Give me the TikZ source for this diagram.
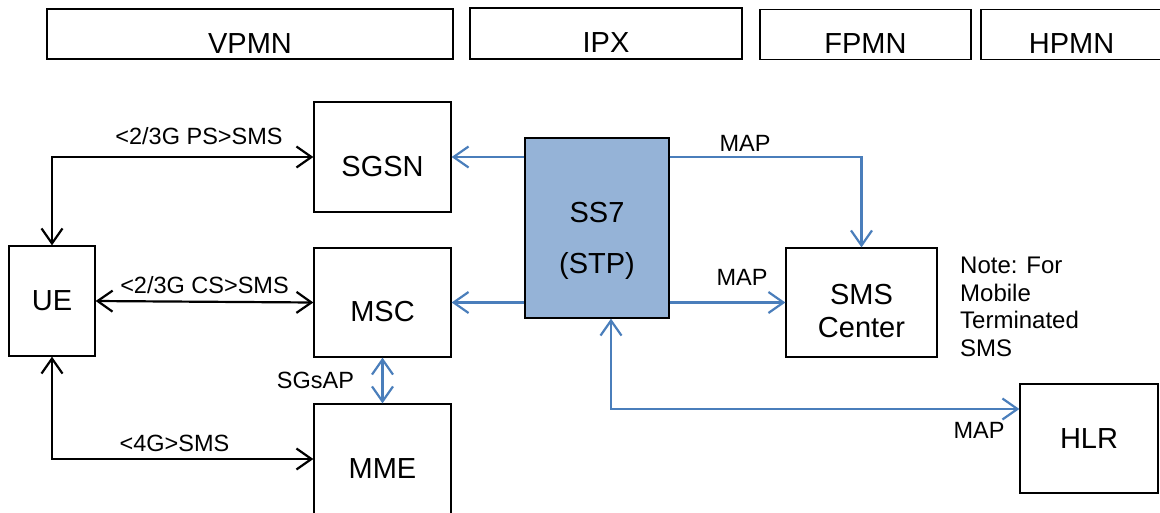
\documentclass[tikz,border=0pt]{standalone}
\usepackage{fontspec}
\setmainfont{Liberation Sans}
\usetikzlibrary{arrows.meta}
\definecolor{mapblue}{HTML}{4A7EBB}
\definecolor{stpfill}{HTML}{95B3D7}
\tikzstyle{netbox} = [draw=black, line width=1.3pt, rectangle, inner sep=0pt,
    font=\fontsize{29}{33}\selectfont]
\tikzstyle{lowbox} = [netbox, text height=38pt, text depth=0pt]
\tikzstyle{headbox} = [lowbox, minimum height=50pt]
\tikzstyle{smslink} = [draw=black, line width=2.2pt, <->]
\tikzstyle{maplink} = [draw=mapblue, line width=2.2pt]
\tikzstyle{protolabel} = [inner sep=0pt, anchor=base, font=\fontsize{23.5}{27}\selectfont]
\tikzstyle{notetext} = [inner sep=0pt, anchor=north west, align=left,
    font=\fontsize{24}{27.5}\selectfont]

\begin{document}
\begin{tikzpicture}[x=1pt, y=-1pt, >={Straight Barb[length=15pt,width=21pt]}]
    \useasboundingbox (0,0) rectangle (1160,512);
    \clip (0,0) rectangle (1160,512);
    \node[headbox, minimum width=406pt] (vpmn) at (250,34) {VPMN};
    \node[headbox, minimum width=272pt, minimum height=51pt] (ipx) at (606,33.5) {IPX};
    \node[headbox, minimum width=211pt] (fpmn) at (865.5,34.5) {FPMN};
    \node[headbox, minimum width=181pt] (hpmn) at (1071.5,34.5) {HPMN};

    \node[netbox, minimum width=86pt, minimum height=110pt] (ue) at (52,301) {UE};
    \node[lowbox, minimum width=137pt, minimum height=110pt] (sgsn) at (382.5,157) {SGSN};
    \node[lowbox, minimum width=137pt, minimum height=109pt] (msc) at (382.5,302.5) {MSC};
    \node[lowbox, minimum width=137pt, minimum height=110pt] (mme) at (382.5,459) {MME};
    \node[netbox, fill=stpfill, text width=140pt, align=center,
        font=\fontsize{29}{51}\selectfont, text height=20pt, text depth=32pt,
        minimum width=144pt, minimum height=180pt] (ss7) at (597,228) {SS7\\(STP)};
    \node[netbox, align=center, text height=70pt, text depth=1pt,
        minimum width=151pt, minimum height=109pt] (smsc) at (861.5,302.5) {SMS\\Center};
    \node[netbox, minimum width=138pt, minimum height=109pt] (hlr) at (1089,438.5) {HLR};
    \node[notetext] (note) at (960,257) {Note: For\\Mobile\\Terminated\\SMS};

    \draw[smslink] (ue.north) |- (sgsn.west);
    \draw[smslink] (ue.east) -- (msc.west);
    \draw[smslink] (ue.south) |- (mme.west);
    \draw[maplink, <->] (msc.south) -- (mme.north);
    \draw[maplink, ->] (ss7.west |- sgsn.east) -- (sgsn.east);
    \draw[maplink, ->] (ss7.west |- msc.east) -- (msc.east);
    \draw[maplink, ->] (ss7.east |- sgsn.east) -| (smsc.north);
    \draw[maplink, ->] (ss7.east |- smsc.west) -- (smsc.west);
    \draw[maplink, <->] ([xshift=14pt]ss7.south) |- ([yshift=29.5pt]hlr.west);

    \node[protolabel] (pslabel) at (199,144) {<2/3G PS>SMS};
    \node[protolabel] (cslabel) at (204.5,293) {<2/3G CS>SMS};
    \node[protolabel] (ltelabel) at (174.5,451) {<4G>SMS};
    \node[protolabel] (sgsap) at (315.5,388) {SGsAP};
    \node[protolabel] (mapsmsc) at (745,151) {MAP};
    \node[protolabel] (mapmt) at (742,285) {MAP};
    \node[protolabel] (maphlr) at (979,438) {MAP};
\end{tikzpicture}
\end{document}
